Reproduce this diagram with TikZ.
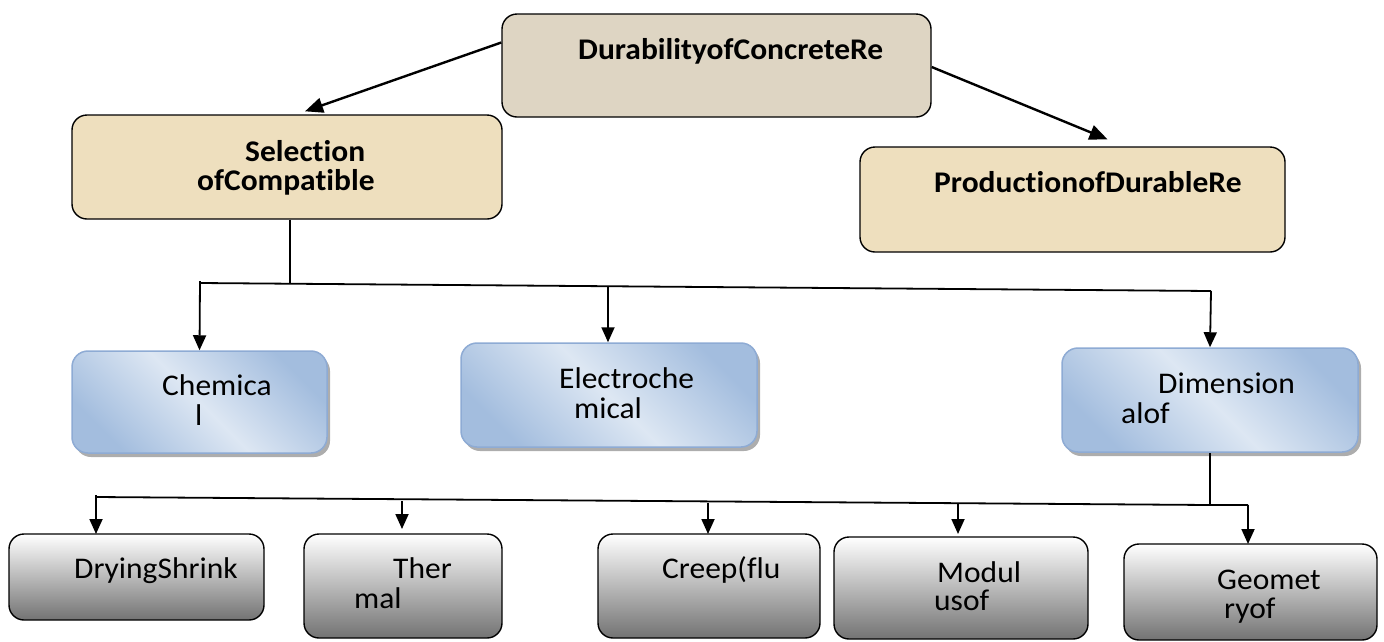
\documentclass[tikz,border=0pt]{standalone}
\usepackage{fontspec}
\setmainfont[FakeStretch=1.05,Ligatures=NoCommon]{Carlito}
\usetikzlibrary{arrows.meta,shadows}
\definecolor{canvas}{HTML}{DED5C3}
\definecolor{parch}{HTML}{EEDFBE}
\definecolor{bluelight}{HTML}{DDE7F3}
\definecolor{bluedark}{HTML}{A3BDDE}
\definecolor{blueborder}{HTML}{8EABD4}
\begin{document}
\begin{tikzpicture}[x=1pt,y=-1pt,
  boxbase/.style={draw=black, line width=1.4pt, rounded corners=15pt, inner sep=0pt},
  topbox/.style={boxbase, fill=canvas},
  beigebox/.style={boxbase, fill=parch},
  bluebox/.style={draw=blueborder, line width=1.5pt, rounded corners=16pt, inner sep=0pt,
    left color=bluedark, right color=bluedark, middle color=bluelight, shading angle=135,
    drop shadow={shadow xshift=3pt, shadow yshift=-4pt, fill=black!40, opacity=0.8}},
  graybox/.style={boxbase, top color=white, bottom color=black!55},
  lbl/.style={inner sep=0pt, anchor=base west, font=\fontsize{30}{30}\selectfont},
  blbl/.style={inner sep=0pt, anchor=base west, font=\fontsize{30}{30}\selectfont\bfseries},
  conn/.style={line width=1.8pt},
  arr/.style={conn, -{Triangle[length=15pt,width=13pt]}},
  bigarr/.style={line width=2.4pt, -{Triangle[length=18pt,width=15pt]}}
]
\useasboundingbox (0,0) rectangle (1384,641);

% boxes
\node[topbox, minimum width=429pt, minimum height=103pt] (top) at (716.5,65.5) {};
\node[beigebox, minimum width=430pt, minimum height=104pt] (sel) at (287,167) {};
\node[beigebox, minimum width=425pt, minimum height=105pt] (prod) at (1072.5,199.5) {};

\node[bluebox, minimum width=255pt, minimum height=102pt] (chem) at (199.5,402) {};
\node[bluebox, minimum width=296pt, minimum height=104pt] (elec) at (609,395) {};
\node[bluebox, minimum width=296pt, minimum height=104pt] (dim) at (1210,400) {};

\node[graybox, minimum width=255pt, minimum height=86pt] (dry) at (136.5,577) {};
\node[graybox, minimum width=198pt, minimum height=104pt] (ther) at (403,586) {};
\node[graybox, minimum width=222pt, minimum height=104pt] (creep) at (709,586) {};
\node[graybox, minimum width=254pt, minimum height=102pt] (mod) at (961,588) {};
\node[graybox, minimum width=253pt, minimum height=96pt] (geo) at (1250.5,592) {};

% texts
\node[blbl] (topT) at (578,59) {DurabilityofConcreteRe};
\node[blbl] (selT1) at (245,161) {Selection};
\node[blbl] (selT2) at (197,190) {ofCompatible};
\node[blbl] (prodT) at (934,192) {ProductionofDurableRe};

\node[lbl] (chemT1) at (162,395) {Chemica};
\node[lbl] (chemT2) at (195,425) {l};
\node[lbl] (elecT1) at (559,388) {Electroche};
\node[lbl] (elecT2) at (574,418) {mical};
\node[lbl] (dimT1) at (1158,393) {Dimension};
\node[lbl] (dimT2) at (1121,423) {alof};

\node[lbl] (dryT) at (74,578) {DryingShrink};
\node[lbl] (therT1) at (393,578) {Ther};
\node[lbl] (therT2) at (354,608) {mal};
\node[lbl] (creepT) at (662,578) {Creep(flu};
\node[lbl] (modT1) at (937,582) {Modul};
\node[lbl] (modT2) at (934,610) {usof};
\node[lbl] (geoT1) at (1217,589) {Geomet};
\node[lbl] (geoT2) at (1224,618) {ryof};

% top arrows
\draw[bigarr] ([yshift=23pt]top.west) -- ([xshift=18pt,yshift=3pt]sel.north);
\draw[bigarr] ([yshift=-1.5pt]top.east) -- ([xshift=35pt,yshift=7pt]prod.north);

% first bus
\coordinate (b0) at (200,281);
\coordinate (b1) at (200,283);
\coordinate (bs) at (290,284);
\coordinate (be) at (608,286);
\coordinate (b2) at (1211,291);
\draw[conn] ([xshift=3pt]sel.south) -- (bs);
\draw[conn] (b1) -- (b2);
\draw[arr] (b0) -- (chem.north);
\draw[arr] (be) -- ([xshift=-1pt]elec.north);
\draw[arr] (b2) -- (dim.north);

% second bus
\coordinate (c0) at (96,495);
\coordinate (c1) at (96,497);
\coordinate (cd) at (1210,505);
\coordinate (ct) at (402,501);
\coordinate (cc) at (708,503);
\coordinate (cm) at (958,504);
\coordinate (cg) at (1248,505);
\coordinate (tt) at (402,529);
\coordinate (tc) at (708,534);
\coordinate (tm) at (958,534);
\coordinate (tg) at (1248,544);
\coordinate (td) at (96,534);
\draw[conn] (dim.south) -- (cd);
\draw[conn] (c1) -- (cd) -- (cg);
\draw[arr] (c0) -- (td);
\draw[arr] (ct) -- (tt);
\draw[arr] (cc) -- (tc);
\draw[arr] (cm) -- (tm);
\draw[arr] (cg) -- (tg);
\end{tikzpicture}
\end{document}
